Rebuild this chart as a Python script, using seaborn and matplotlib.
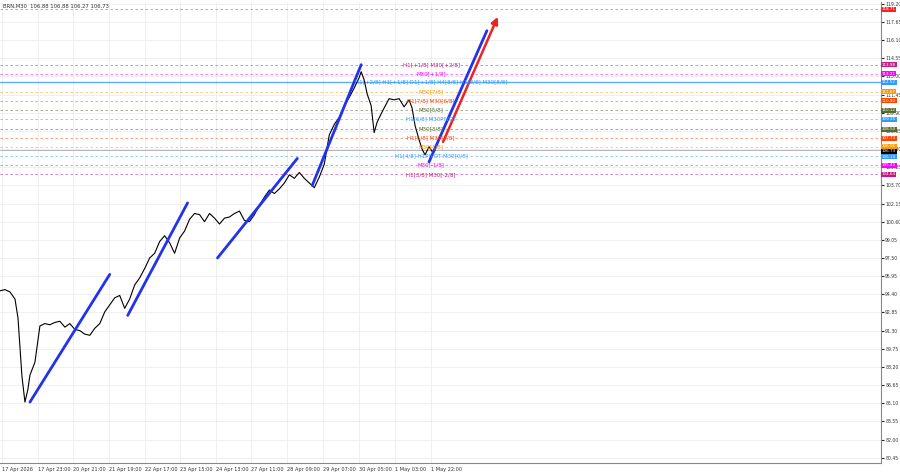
import matplotlib
matplotlib.use("Agg")
import matplotlib.pyplot as plt
import seaborn as sns
import pandas as pd
import numpy as np

sns.set_style("white")
plt.rcParams['font.family'] = ['DejaVu Sans']

# price path (bar index, close)
bar_x = [0,5,10,15,18,22,25,28,30,35,40,45,50,55,60,65,70,75,80,85,90,95,100,105,110,115,120,125,130,135,140,145,150,155,160,165,170,175,180,185,190,195,200,205,210,215,220,225,230,235,240,245,250,255,260,265,270,275,280,285,290,295,300,305,310,315,320,325,330,335,340,345,350,355,360,362,365,368,372,375,378,382,385,390,395,400,405,410,413,416,420,423,426,430,433,436]
bar_c = [94.7,94.8,94.6,94.0,92.4,87.4,85.2,86.3,87.5,88.6,91.7,91.9,91.8,92.0,92.1,91.6,91.9,91.4,91.3,91.0,90.9,91.5,91.9,92.9,93.5,94.1,94.3,93.2,94.0,95.2,95.8,96.6,97.5,97.9,98.9,99.4,98.8,97.9,99.2,99.8,100.8,101.3,101.2,100.6,101.3,100.9,100.4,100.9,101.0,101.3,101.5,100.7,100.6,101.2,102.0,102.7,103.3,103.0,103.4,103.9,104.6,104.3,104.8,104.3,103.9,103.5,104.4,105.5,108.0,108.9,109.5,110.5,111.2,112.0,112.9,113.4,112.7,111.5,110.5,108.2,109.1,109.8,110.3,111.1,111.0,111.1,110.4,111.0,110.3,108.8,107.6,106.8,106.3,107.0,106.6,106.7]

ticks_x = [2,38,73,109,145,180,216,252,288,324,360,396,432]
ticks_lab = ["17 Apr 2026","17 Apr 23:00","20 Apr 21:00","21 Apr 19:00","22 Apr 17:00","23 Apr 15:00","24 Apr 13:00","27 Apr 11:00","28 Apr 09:00","29 Apr 07:00","30 Apr 05:00","1 May 03:00","1 May 22:00"]
y_ticks = [119.20,117.65,116.10,114.55,113.00,111.45,109.90,108.35,106.80,105.25,103.70,102.15,100.60,99.05,97.50,95.95,94.40,92.85,91.30,89.75,88.20,86.65,85.10,83.55,82.00,80.45]

lvl_p = [118.71,113.98,113.21,112.52,111.67,110.90,110.12,109.35,108.50,107.73,106.96,106.19,105.42,104.64]
lvl_c = ["#ff2020","#c0208a","#ff00ff","#3399ff","#ff9900","#ff4500","#556b2f","#3399ff","#556b2f","#ff4500","#ff9900","#3399ff","#ff00ff","#c71585"]
lvl_t = ["","H1[+1/8] M30[+2/8]","M30[+1/8]","H1[+2/8] H1[+1/8] D1[+1/8] H4[8/8] H1[8/8] M30[8/8]","M30[7/8]","H1[7/8] M30[6/8]","M30[5/8]","H1[6/8] M30PIVOT","M30[3/8]","H1[5/8] M30[2/8]","M30[1/8]","H1[4/8] H1PIVOT M30[0/8]","M30[-1/8]","H1[3/8] M30[-2/8]"]
cur_price = 106.73

trend_x0 = [30,128,218,313,430]; trend_y0 = [85.2,92.6,97.5,103.7,105.7]
trend_x1 = [110,188,298,362,488]; trend_y1 = [96.1,102.2,106.0,114.0,116.9]
arrow_x = [443,500]; arrow_y = [107.2,118.3]

fig = plt.figure(figsize=(9,4.74), dpi=100)
ax = fig.add_axes([0, 11/474, 881/900, 461/474])
ax.set_xlim(0, 883)
ax.set_ylim(80.0, 119.35)
for t in y_ticks:
    ax.axhline(t, color="#ececec", lw=0.6, zorder=0)
for t in ticks_x:
    ax.axvline(t, color="#ececec", lw=0.6, zorder=0)
for p, c in zip(lvl_p, lvl_c):
    ax.axhline(p, color=c, lw=1.0 if p==112.52 else 0.6,
               ls="-" if p==112.52 else (0,(3,3)), alpha=0.8 if p==112.52 else 0.6, zorder=1)
for p, c, t in zip(lvl_p, lvl_c, lvl_t):
    if t:
        ax.text(432, p, t, color=c, fontsize=4, ha="center", va="center", zorder=5)
df = pd.DataFrame({"x": bar_x, "c": bar_c})
sns.lineplot(data=df, x="x", y="c", ax=ax, color="black", lw=0.8, zorder=3)
for a,b,c,d in zip(trend_x0, trend_y0, trend_x1, trend_y1):
    ax.plot([a,c],[b,d], color="#2233ee", lw=2, zorder=4)
ax.annotate("", xy=(arrow_x[1],arrow_y[1]), xytext=(arrow_x[0],arrow_y[0]),
            arrowprops=dict(arrowstyle="-|>", color="#ee2222", lw=1.8), zorder=4)
ax.axhline(cur_price, color="#999999", lw=0.5, zorder=1)
ax.yaxis.tick_right()
ax.set_yticks(y_ticks)
ax.set_yticklabels([f"{t:.2f}" for t in y_ticks], fontsize=3.3, color="#333333")
ax.set_xticks(ticks_x)
ax.set_xticklabels(ticks_lab, fontsize=3.6, color="#333333", ha="left")
ax.tick_params(length=2, pad=1)
box_p = lvl_p[:10] + [107.0, 106.55] + lvl_p[11:]
box_c = lvl_c[:11] + ["black"] + lvl_c[11:]
box_v = lvl_p[:11] + [cur_price] + lvl_p[11:]
box_p = lvl_p[:10] + [107.02, 106.62, 106.15] + lvl_p[12:]
for p, c, v in zip(box_p, box_c, box_v):
    ax.text(884, p, f"{v:.2f}", fontsize=3.0, color="white", va="center", ha="left",
            bbox=dict(boxstyle="square,pad=0.12", fc=c, ec="none"), clip_on=False)
ax.set_xlabel(""); ax.set_ylabel("")
for s in ["top","left"]:
    ax.spines[s].set_visible(False)
ax.spines["right"].set_color("#888888"); ax.spines["bottom"].set_color("#888888")
ax.text(3, 118.95, "BRN,M30  106.88 106.88 106.27 106.73", fontsize=3.8, color="#333333", va="center")
fig.savefig("out.png", dpi=100, facecolor="white")
